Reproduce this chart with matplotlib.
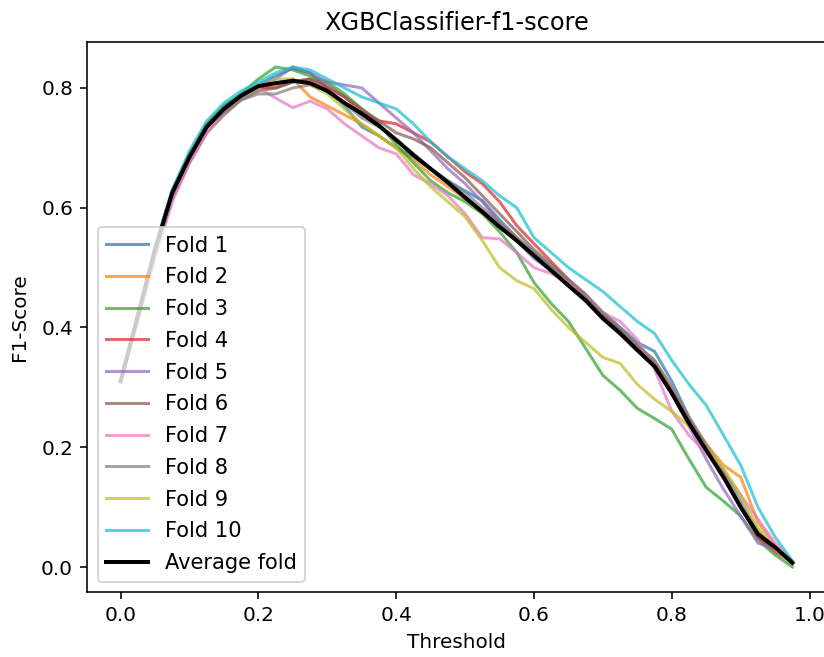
import matplotlib
matplotlib.use("Agg")
import matplotlib.pyplot as plt
import numpy as np

# thresholds 0.0 .. 0.975
thresholds = np.arange(0, 1.0, 0.025)

fold1 = [0.31, 0.42, 0.535, 0.63, 0.69, 0.74, 0.77, 0.79, 0.805, 0.82,
         0.833, 0.825, 0.80, 0.77, 0.735, 0.72, 0.70, 0.685, 0.665, 0.645,
         0.628, 0.612, 0.58, 0.55, 0.525, 0.50, 0.475, 0.45, 0.425, 0.40,
         0.375, 0.36, 0.31, 0.25, 0.20, 0.155, 0.10, 0.05, 0.03, 0.008]
fold2 = [0.31, 0.42, 0.53, 0.625, 0.685, 0.74, 0.765, 0.785, 0.80, 0.805,
         0.815, 0.785, 0.77, 0.755, 0.74, 0.72, 0.70, 0.68, 0.655, 0.635,
         0.615, 0.595, 0.575, 0.55, 0.52, 0.495, 0.475, 0.45, 0.42, 0.395,
         0.37, 0.345, 0.30, 0.245, 0.205, 0.17, 0.15, 0.075, 0.035, 0.008]
fold3 = [0.31, 0.42, 0.53, 0.625, 0.69, 0.74, 0.77, 0.79, 0.815, 0.835,
         0.83, 0.82, 0.81, 0.79, 0.765, 0.74, 0.705, 0.675, 0.645, 0.625,
         0.61, 0.59, 0.56, 0.525, 0.475, 0.44, 0.41, 0.365, 0.32, 0.295,
         0.265, 0.248, 0.23, 0.18, 0.133, 0.11, 0.085, 0.045, 0.02, 0.0]
fold4 = [0.31, 0.42, 0.53, 0.625, 0.685, 0.735, 0.76, 0.785, 0.80, 0.80,
         0.81, 0.815, 0.80, 0.785, 0.76, 0.745, 0.74, 0.725, 0.71, 0.685,
         0.66, 0.64, 0.61, 0.57, 0.54, 0.51, 0.48, 0.455, 0.42, 0.395,
         0.37, 0.34, 0.295, 0.245, 0.20, 0.155, 0.10, 0.05, 0.025, 0.008]
fold5 = [0.31, 0.42, 0.53, 0.62, 0.685, 0.735, 0.765, 0.785, 0.80, 0.815,
         0.835, 0.825, 0.81, 0.805, 0.80, 0.775, 0.75, 0.725, 0.695, 0.665,
         0.64, 0.61, 0.575, 0.545, 0.515, 0.495, 0.47, 0.445, 0.415, 0.395,
         0.37, 0.34, 0.29, 0.235, 0.18, 0.13, 0.085, 0.04, 0.03, 0.01]
fold6 = [0.31, 0.41, 0.52, 0.615, 0.675, 0.725, 0.755, 0.78, 0.795, 0.80,
         0.81, 0.815, 0.805, 0.785, 0.765, 0.745, 0.725, 0.715, 0.70, 0.675,
         0.65, 0.62, 0.59, 0.56, 0.53, 0.505, 0.48, 0.45, 0.42, 0.395,
         0.365, 0.335, 0.29, 0.24, 0.195, 0.15, 0.10, 0.055, 0.03, 0.008]
fold7 = [0.31, 0.41, 0.515, 0.61, 0.675, 0.725, 0.76, 0.785, 0.80, 0.783,
         0.767, 0.778, 0.765, 0.74, 0.72, 0.70, 0.69, 0.655, 0.64, 0.62,
         0.59, 0.55, 0.548, 0.525, 0.50, 0.49, 0.475, 0.455, 0.425, 0.41,
         0.38, 0.33, 0.26, 0.22, 0.19, 0.16, 0.12, 0.08, 0.04, 0.01]
fold8 = [0.31, 0.42, 0.53, 0.625, 0.685, 0.735, 0.76, 0.78, 0.79, 0.79,
         0.80, 0.805, 0.795, 0.775, 0.75, 0.735, 0.715, 0.69, 0.665, 0.645,
         0.625, 0.60, 0.575, 0.55, 0.525, 0.50, 0.48, 0.455, 0.425, 0.40,
         0.37, 0.345, 0.30, 0.25, 0.205, 0.16, 0.11, 0.06, 0.03, 0.008]
fold9 = [0.31, 0.42, 0.53, 0.625, 0.69, 0.735, 0.765, 0.785, 0.80, 0.815,
         0.815, 0.805, 0.79, 0.765, 0.74, 0.72, 0.70, 0.665, 0.635, 0.61,
         0.585, 0.545, 0.50, 0.478, 0.465, 0.43, 0.40, 0.375, 0.35, 0.34,
         0.305, 0.28, 0.26, 0.235, 0.20, 0.165, 0.12, 0.065, 0.03, 0.005]
fold10 = [0.31, 0.42, 0.535, 0.63, 0.695, 0.745, 0.775, 0.795, 0.81, 0.825,
          0.835, 0.83, 0.815, 0.80, 0.785, 0.775, 0.765, 0.74, 0.71, 0.685,
          0.665, 0.645, 0.62, 0.60, 0.55, 0.525, 0.50, 0.48, 0.46, 0.435,
          0.41, 0.39, 0.345, 0.305, 0.27, 0.22, 0.17, 0.10, 0.05, 0.01]
average = [0.31, 0.42, 0.53, 0.625, 0.685, 0.735, 0.765, 0.787, 0.803, 0.808,
           0.812, 0.808, 0.795, 0.775, 0.757, 0.737, 0.713, 0.688, 0.665, 0.642,
           0.617, 0.593, 0.568, 0.545, 0.52, 0.495, 0.47, 0.445, 0.415, 0.39,
           0.362, 0.335, 0.29, 0.24, 0.195, 0.15, 0.10, 0.055, 0.033, 0.007]

folds = [fold1, fold2, fold3, fold4, fold5, fold6, fold7, fold8, fold9, fold10]

fig = plt.figure(figsize=(824 / 144, 657 / 144), dpi=144)
ax = fig.add_axes([0.1056, 0.0989, 0.8968, 0.8372])

for i, f in enumerate(folds):
    ax.plot(thresholds, f, alpha=0.7, label="Fold " + str(i + 1))
ax.plot(thresholds, average, color="black", linewidth=2, label="Average fold")

ax.set_title("XGBClassifier-f1-score")
ax.set_xlabel("Threshold")
ax.set_ylabel("F1-Score", labelpad=6)
ax.legend(loc="lower left", fontsize=10.5, labelspacing=0.56)

fig.savefig("out.png", dpi=144)
